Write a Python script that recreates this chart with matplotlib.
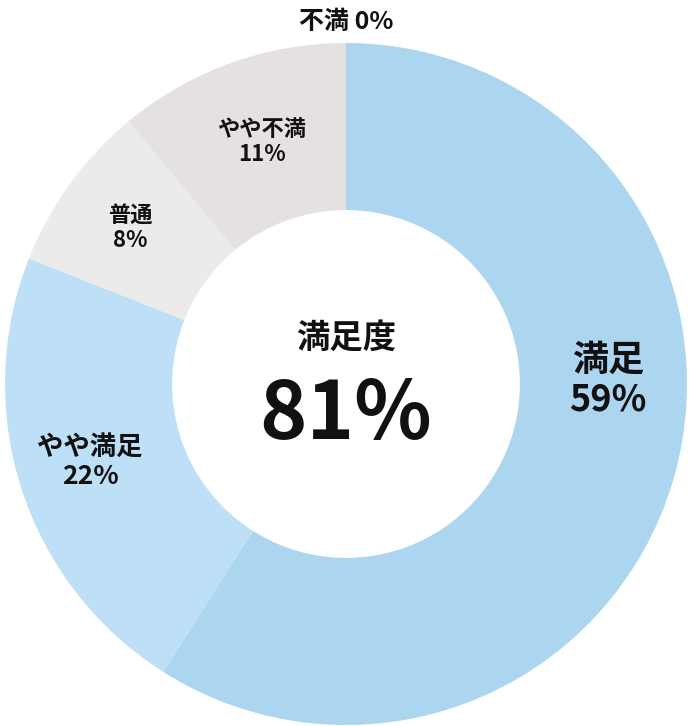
import matplotlib.pyplot as plt

plt.rcParams['font.family'] = ['Noto Sans CJK JP', 'DejaVu Sans']

categories = ['満足', 'やや満足', '普通', 'やや不満', '不満']
values = [59, 22, 8, 11, 0]
colors = ['#acd5f0', '#bde0f7', '#ebebeb', '#e6e1e1', '#e6e1e1']
center_title = '満足度'
center_value = '81%'

fig = plt.figure(figsize=(6.9, 7.26), dpi=100)
ax = fig.add_axes([5 / 690, 1 / 726, 682 / 690, 682 / 726])

ax.pie(values, colors=colors, startangle=90, counterclock=False,
       radius=1.0, wedgeprops=dict(width=0.49, edgecolor='none'))
ax.set_xlim(-1, 1)
ax.set_ylim(-1, 1)
ax.set_aspect('equal')
ax.axis('off')


def px(x, y):
    return (x - 346) / 341, (384 - y) / 341


label_pos = [(608, 380, 26), (90, 462, 19), (130, 228, 16), (262, 142, 16)]
for name, v, (x, y, fs) in zip(categories, values, label_pos):
    ax.text(*px(x, y), f'{name}\n{v}%', ha='center', va='center',
            fontsize=fs, fontweight='bold', color='#111111', linespacing=1.1)

ax.text(*px(346, 22), f'{categories[4]} {values[4]}%', ha='center', va='center',
        fontsize=18, fontweight='bold', color='#111111', clip_on=False)

ax.text(*px(346, 338), center_title, ha='center', va='center',
        fontsize=24, fontweight='bold', color='#111111')
ax.text(*px(346, 416), center_value, ha='center', va='center',
        fontsize=58, fontweight='bold', color='#111111')

fig.savefig('out.png', dpi=100)
